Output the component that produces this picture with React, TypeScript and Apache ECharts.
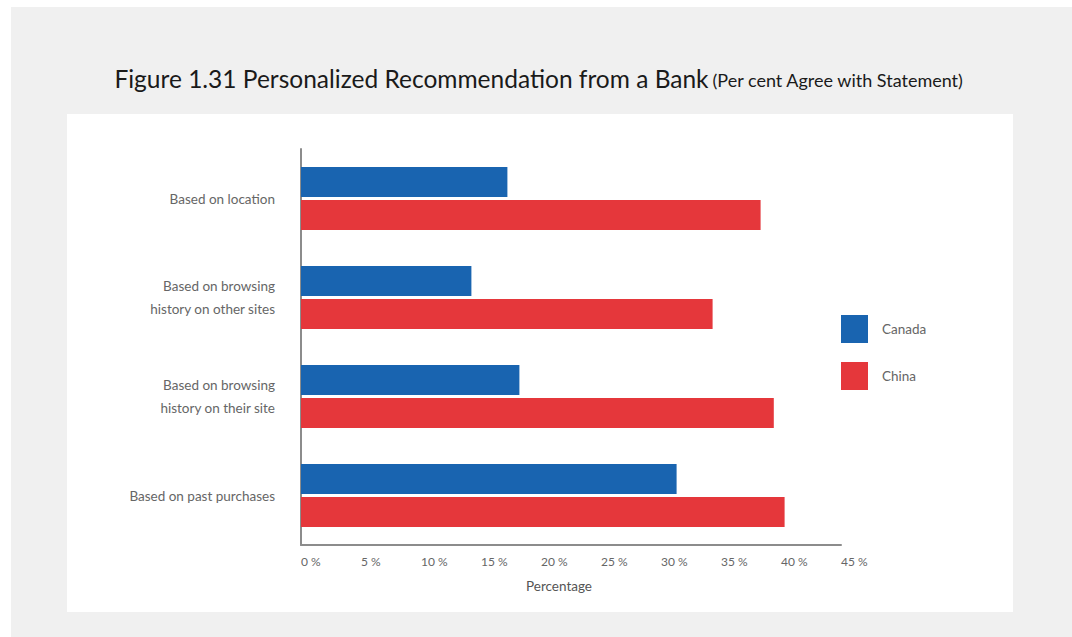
import React, { useEffect, useRef } from "react";
import * as echarts from "echarts";

const categories = [
  "Based on location",
  "Based on browsing\nhistory on other sites",
  "Based on browsing\nhistory on their site",
  "Based on past purchases",
];
const canada = [17.2, 14.2, 18.2, 31.3];
const china = [38.3, 34.3, 39.4, 40.3];
const seriesNames = ["Canada", "China"];
const xTicks = [0, 5, 10, 15, 20, 25, 30, 35, 40, 45];

const FONT = "Lato, 'Open Sans', sans-serif";

export default function App() {
  const ref = useRef<HTMLDivElement>(null);
  useEffect(() => {
    if (!ref.current) return;
    const chart = echarts.init(ref.current, undefined, { renderer: "svg" });
    chart.setOption({
      animation: false,
      backgroundColor: "#ffffff",
      textStyle: { fontFamily: FONT },
      graphic: [
        { type: "rect", z: -10, shape: { x: 11, y: 7, width: 1061, height: 630 }, style: { fill: "#f0f0f0" } },
        { type: "rect", z: -9, shape: { x: 67, y: 114, width: 946, height: 498 }, style: { fill: "#ffffff" } },
        {
          type: "text",
          x: 539,
          y: 78,
          style: {
            text: "{a|Figure 1.31 Personalized Recommendation from a Bank} {b|(Per cent Agree with Statement)}",
            align: "center",
            verticalAlign: "middle",
            rich: {
              a: { fontSize: 24.5, fontFamily: FONT, fill: "#1a1a1a", fontWeight: "normal" },
              b: { fontSize: 18, fontFamily: FONT, fill: "#1a1a1a", padding: [3, 0, 0, 0] },
            },
          },
        },
        {
          type: "text",
          x: 559,
          y: 586,
          style: { text: "Percentage", fontSize: 13.5, fontFamily: FONT, fill: "#555", align: "center", verticalAlign: "middle" },
        },
      ],
      legend: {
        data: seriesNames,
        orient: "vertical",
        left: 841,
        top: 315,
        padding: 0,
        itemWidth: 27,
        itemHeight: 28,
        itemGap: 19,
        icon: "rect",
        textStyle: { color: "#666", fontSize: 13.5, fontFamily: FONT, padding: [0, 0, 0, 9] },
      },
      grid: { left: 301, top: 149, width: 540, height: 396, containLabel: false },
      xAxis: {
        type: "value",
        min: xTicks[0],
        max: xTicks[xTicks.length - 1],
        interval: 5,
        axisLine: { show: true, lineStyle: { color: "#8c8c8c", width: 2 } },
        axisTick: { show: false },
        splitLine: { show: false },
        axisLabel: {
          formatter: (v: number) => `${v} %`,
          align: "left",
          margin: 10,
          color: "#666",
          fontSize: 12,
          fontFamily: FONT,
        },
      },
      yAxis: {
        type: "category",
        data: categories,
        inverse: true,
        axisLine: { show: true, lineStyle: { color: "#8c8c8c", width: 2 } },
        axisTick: { show: false },
        axisLabel: { margin: 26, color: "#666", fontSize: 13.5, lineHeight: 23, fontFamily: FONT },
      },
      series: [
        { name: seriesNames[0], type: "bar", data: canada, barWidth: 30, barGap: "10%", itemStyle: { color: "#1964b0" } },
        { name: seriesNames[1], type: "bar", data: china, barWidth: 30, barGap: "10%", itemStyle: { color: "#e5373b" } },
      ],
    });
    return () => chart.dispose();
  }, []);
  return (
    <div style={{ position: "absolute", left: 0, top: 0, width: 1072, height: 637 }}>
      <div ref={ref} style={{ width: 1072, height: 637 }} />
    </div>
  );
}
